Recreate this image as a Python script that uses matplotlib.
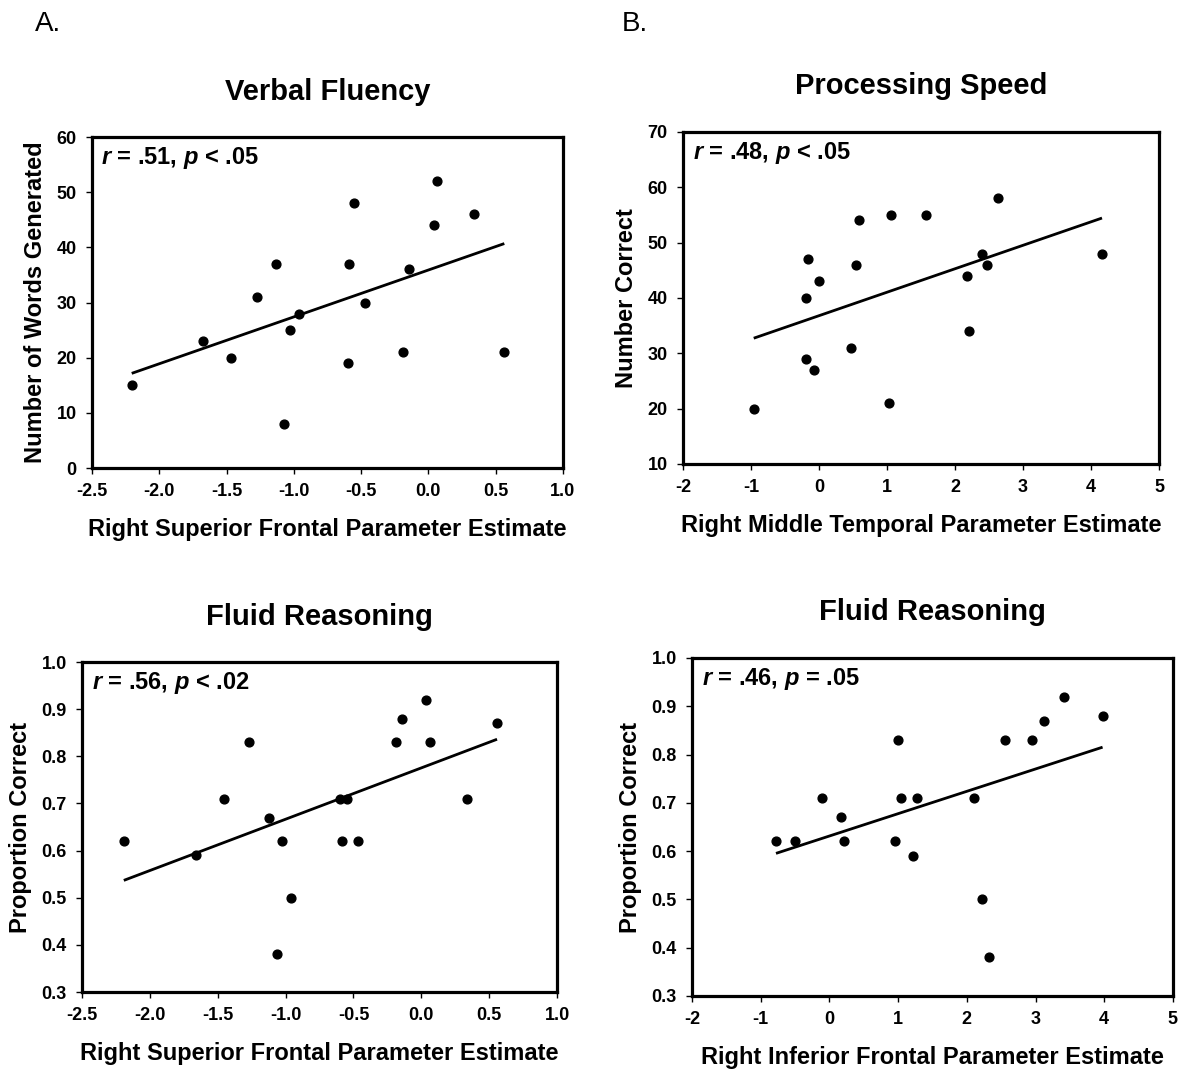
import matplotlib.pyplot as plt
import numpy as np

plt.rcParams['font.family'] = ['Liberation Sans', 'DejaVu Sans']
plt.rcParams['mathtext.fontset'] = 'custom'
plt.rcParams['mathtext.it'] = 'Liberation Sans:italic:bold'

# Panel A (top left): Verbal Fluency vs right superior frontal
sf_x = [-2.205, -1.673, -1.468, -1.277, -1.131, -1.074, -1.032, -0.963, -0.601,
        -0.592, -0.550, -0.470, -0.191, -0.144, 0.040, 0.062, 0.337, 0.564]
vf_y = [15, 23, 20, 31, 37, 8, 25, 28, 19, 37, 48, 30, 21, 36, 44, 52, 46, 21]

# Panel B (top right): Processing Speed vs right middle temporal
mt_x = [-0.96, -0.196, -0.162, -0.196, -0.078, -0.005, 0.475, 0.549, 0.588,
        1.029, 1.064, 1.569, 2.181, 2.211, 2.392, 2.475, 2.637, 4.162]
ps_y = [20, 40, 47, 29, 27, 43, 31, 46, 54, 21, 55, 55, 44, 34, 48, 46, 58, 48]

# Panel C (bottom left): Fluid Reasoning vs right superior frontal
sf2_x = [-2.192, -1.663, -1.457, -1.270, -1.125, -1.066, -1.027, -0.958, -0.597,
         -0.587, -0.545, -0.467, -0.189, -0.142, 0.037, 0.061, 0.334, 0.558]
fr_y = [0.62, 0.59, 0.71, 0.83, 0.67, 0.38, 0.62, 0.50, 0.71,
        0.62, 0.71, 0.62, 0.83, 0.88, 0.92, 0.83, 0.71, 0.87]

# Panel D (bottom right): Fluid Reasoning vs right inferior frontal
if_x = [-0.777, -0.495, -0.112, 0.170, 0.209, 0.956, 1.005, 1.039, 1.214,
        1.277, 2.107, 2.214, 2.325, 2.563, 2.947, 3.117, 3.417, 3.976]
fr2_y = [0.62, 0.62, 0.71, 0.67, 0.62, 0.62, 0.83, 0.71, 0.59,
         0.71, 0.71, 0.50, 0.38, 0.83, 0.83, 0.87, 0.92, 0.88]

panels = [
    dict(x=sf_x, y=vf_y, title='Verbal Fluency', stat=r'$\mathit{r}$ = .51, $\mathit{p}$ < .05',
         xlabel='Right Superior Frontal Parameter Estimate', ylabel='Number of Words Generated',
         xlim=(-2.5, 1.0), xticks=np.arange(-2.5, 1.01, 0.5), xfmt='{:.1f}',
         ylim=(0, 60), yticks=np.arange(0, 61, 10), yfmt='{:.0f}',
         pos=[0.0772, 0.5634, 0.3951, 0.3088]),
    dict(x=mt_x, y=ps_y, title='Processing Speed', stat=r'$\mathit{r}$ = .48, $\mathit{p}$ < .05',
         xlabel='Right Middle Temporal Parameter Estimate', ylabel='Number Correct',
         xlim=(-2, 5), xticks=np.arange(-2, 6, 1), xfmt='{:.0f}',
         ylim=(10, 70), yticks=np.arange(10, 71, 10), yfmt='{:.0f}',
         pos=[0.5730, 0.5672, 0.3993, 0.3097]),
    dict(x=sf2_x, y=fr_y, title='Fluid Reasoning', stat=r'$\mathit{r}$ = .56, $\mathit{p}$ < .02',
         xlabel='Right Superior Frontal Parameter Estimate', ylabel='Proportion Correct',
         xlim=(-2.5, 1.0), xticks=np.arange(-2.5, 1.01, 0.5), xfmt='{:.1f}',
         ylim=(0.3, 1.0), yticks=np.arange(0.3, 1.01, 0.1), yfmt='{:.1f}',
         pos=[0.0688, 0.0746, 0.3985, 0.3078]),
    dict(x=if_x, y=fr2_y, title='Fluid Reasoning', stat=r'$\mathit{r}$ = .46, $\mathit{p}$ = .05',
         xlabel='Right Inferior Frontal Parameter Estimate', ylabel='Proportion Correct',
         xlim=(-2, 5), xticks=np.arange(-2, 6, 1), xfmt='{:.0f}',
         ylim=(0.3, 1.0), yticks=np.arange(0.3, 1.01, 0.1), yfmt='{:.1f}',
         pos=[0.5805, 0.0709, 0.4035, 0.3153]),
]

fig = plt.figure(figsize=(11.92, 10.72), dpi=100)

for p in panels:
    ax = fig.add_axes(p['pos'])
    x = np.array(p['x'])
    y = np.array(p['y'])
    ax.scatter(x, y, s=40, color='black', zorder=3, clip_on=False)

    # least squares trend line over the data range
    slope, icept = np.polyfit(x, y, 1)
    xs = np.array([x.min(), x.max()])
    ax.plot(xs, slope * xs + icept, color='black', lw=2.0, solid_capstyle='butt')

    ax.set_xlim(p['xlim'])
    ax.set_ylim(p['ylim'])
    ax.set_xticks(p['xticks'])
    ax.set_yticks(p['yticks'])
    ax.set_xticklabels([p['xfmt'].format(v) for v in p['xticks']])
    ax.set_yticklabels([p['yfmt'].format(v) for v in p['yticks']])
    ax.tick_params(direction='out', length=4, width=1, labelsize=13, pad=7)
    for lab in ax.get_xticklabels() + ax.get_yticklabels():
        lab.set_fontweight('bold')
    for s in ax.spines.values():
        s.set_linewidth(2.3)

    ax.set_title(p['title'], fontsize=21, fontweight='bold', pad=27)
    ax.set_xlabel(p['xlabel'], fontsize=17, fontweight='bold', labelpad=13)
    ax.set_ylabel(p['ylabel'], fontsize=17, fontweight='bold', labelpad=7)

    ax.text(0.02, 0.975, p['stat'], transform=ax.transAxes,
            fontsize=17, fontweight='bold', ha='left', va='top')

fig.text(0.029, 0.978, 'A.', fontsize=20, ha='left', va='center')
fig.text(0.522, 0.978, 'B.', fontsize=20, ha='left', va='center')

fig.savefig('out.png', dpi=100)
